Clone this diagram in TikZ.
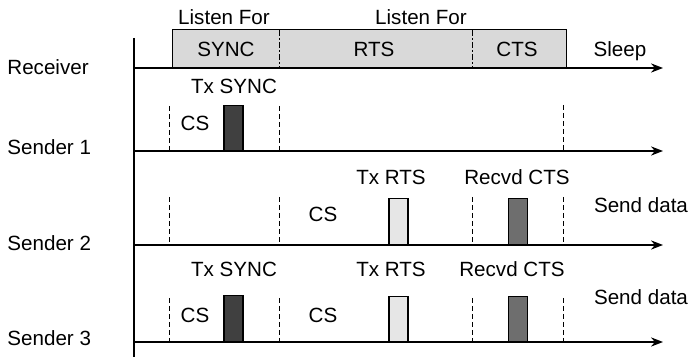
\documentclass[tikz,border=0pt]{standalone}
\usepackage{fontspec}
\setmainfont{Liberation Sans}
\usetikzlibrary{arrows.meta}
\definecolor{boxgray}{HTML}{D9D9D9}
\definecolor{darkbar}{HTML}{404040}
\definecolor{lightbar}{HTML}{E6E6E6}
\definecolor{medbar}{HTML}{6E6E6E}
\begin{document}
\begin{tikzpicture}[x=0.5pt,y=-0.5pt,
  font=\fontsize{10.3}{12}\selectfont,
  lbl/.style={anchor=base, inner sep=0pt},
  rowlbl/.style={anchor=base west, inner sep=0pt},
  timeline/.style={line width=0.65pt, -{Stealth[length=6pt,width=4.6pt]}},
  guide/.style={line width=0.5pt, dash pattern=on 2.5pt off 1.5pt},
  divider/.style={line width=0.5pt, dash pattern=on 3pt off 1pt on 1pt off 1pt},
  bar/.style={draw, line width=0.65pt, minimum width=9.5pt, inner sep=0pt, anchor=south},
  rxbox/.style={draw, line width=0.65pt, fill=boxgray, inner sep=0pt, anchor=south west}]
\useasboundingbox (0,0) rectangle (691,357);

% vertical axis
\coordinate (axtop) at (134,38);
\coordinate (axbot) at (134,357);
\draw[line width=0.65pt] (axtop) -- (axbot);

% receiver box
\node[rxbox, minimum width=197pt, minimum height=19pt] (rx) at (172,68) {};
\draw[divider] (279,30) -- (279,68);
\draw[divider] (472,30) -- (472,68);

% timelines
\coordinate (r0) at (134,68);  \coordinate (r1) at (663,68);
\coordinate (a0) at (134,151); \coordinate (a1) at (663,151);
\coordinate (b0) at (134,245); \coordinate (b1) at (663,245);
\coordinate (c0) at (134,342); \coordinate (c1) at (663,342);
\draw[timeline] (r0) -- (r1);
\draw[timeline] (a0) -- (a1);
\draw[timeline] (b0) -- (b1);
\draw[timeline] (c0) -- (c1);

% row labels
\node[rowlbl] (lr) at (7,75) {Receiver};
\node[rowlbl] (l1) at (7,155) {Sender 1};
\node[rowlbl] (l2) at (7,251) {Sender 2};
\node[rowlbl] (l3) at (7,346) {Sender 3};

% receiver texts
\node[lbl] (lf1) at (224,25) {Listen For};
\node[lbl] (lf2) at (421,25) {Listen For};
\node[lbl] (tsync) at (226,57) {SYNC};
\node[lbl] (trts) at (374,57) {RTS};
\node[lbl] (tcts) at (517,57) {CTS};
\node[lbl] (tsleep) at (620,57) {Sleep};

% sender 1
\draw[guide] (169,106) -- (169,151);
\draw[guide] (279,106) -- (279,151);
\draw[guide] (563,105) -- (563,151);
\node[bar, fill=darkbar, minimum height=22.5pt] (s1sync) at (233.5,151) {};
\node[lbl] (s1tx) at (234,94) {Tx SYNC};
\node[lbl] (s1cs) at (195,131) {CS};

% sender 2
\draw[guide] (169,197) -- (169,245);
\draw[guide] (279,197) -- (279,245);
\draw[guide] (472,197) -- (472,245);
\draw[guide] (563,197) -- (563,245);
\node[bar, fill=lightbar, minimum height=23pt] (s2rts) at (398.5,245) {};
\node[bar, fill=medbar, minimum height=23pt] (s2cts) at (518,245) {};
\node[lbl] (s2cs) at (323,222) {CS};
\node[lbl] (s2tx) at (391,185) {Tx RTS};
\node[lbl] (s2rc) at (517,185) {Recvd CTS};
\node[lbl] (s2sd) at (641,213) {Send data};

% sender 3
\draw[guide] (169,298) -- (169,342);
\draw[guide] (279,298) -- (279,342);
\draw[guide] (472,298) -- (472,342);
\draw[guide] (563,298) -- (563,342);
\node[bar, fill=darkbar, minimum height=23pt] (s3sync) at (233.5,342) {};
\node[bar, fill=lightbar, minimum height=22.5pt] (s3rts) at (398.5,342) {};
\node[bar, fill=medbar, minimum height=22.5pt] (s3cts) at (518,342) {};
\node[lbl] (s3tx) at (234,277) {Tx SYNC};
\node[lbl] (s3cs1) at (195,323) {CS};
\node[lbl] (s3cs2) at (323,323) {CS};
\node[lbl] (s3txr) at (391,277) {Tx RTS};
\node[lbl] (s3rc) at (512,277) {Recvd CTS};
\node[lbl] (s3sd) at (641,305) {Send data};
\end{tikzpicture}
\end{document}
